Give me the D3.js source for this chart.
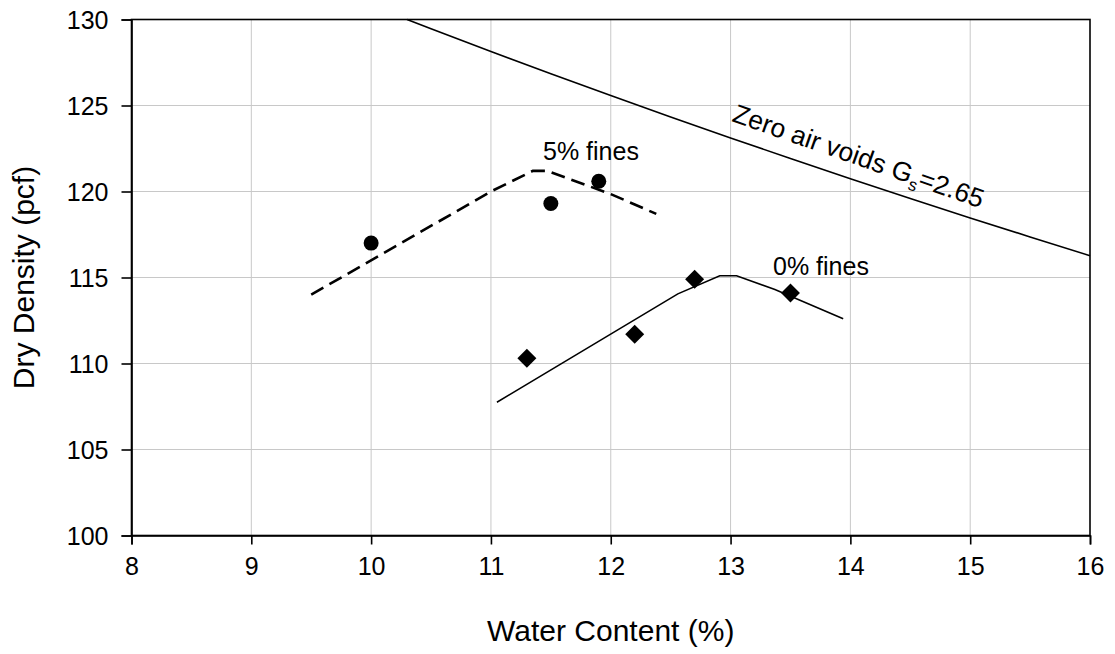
<!DOCTYPE html>
<html>
<head>
<meta charset="utf-8">
<script src="https://cdn.jsdelivr.net/npm/d3@7/dist/d3.min.js"></script>
<style>
  html, body { margin: 0; padding: 0; background: #fff; }
  svg text { font-family: "Liberation Sans", Arial, sans-serif; fill: #000; }
</style>
</head>
<body>
<svg id="chart" width="1115" height="654"></svg>
<script>
// Compaction test results: water content (%) vs dry density (pcf)
const fines5Water   = [10.0, 11.5, 11.9];
const fines5Density = [117.0, 119.3, 120.6];
const fines0Water   = [11.3, 12.2, 12.7, 13.5];
const fines0Density = [110.3, 111.7, 114.9, 114.1];

// Fitted compaction curves
const curve5Water   = [9.5, 11.0, 11.35, 11.47, 12.0, 12.38];
const curve5Density = [114.0, 120.0, 121.2, 121.2, 119.85, 118.7];
const curve0Water   = [11.05, 12.56, 12.91, 13.05, 13.37, 13.94];
const curve0Density = [107.75, 114.05, 115.1, 115.1, 114.3, 112.6];

// Zero air voids line, Gs = 2.65
const zavWater   = [10.3, 10.5, 11, 11.5, 12, 12.5, 13, 13.5, 14, 14.5, 15, 15.5, 16];
const zavDensity = [130.0, 129.46, 128.14, 126.85, 125.58, 124.33, 123.11, 121.92, 120.74, 119.59, 118.46, 117.36, 116.27];

const xTicks = [8, 9, 10, 11, 12, 13, 14, 15, 16];
const yTicks = [100, 105, 110, 115, 120, 125, 130];

const svg = d3.select("#chart");
const plotLeft = 131.5, plotRight = 1090, plotTop = 19.5, plotBottom = 535.5;

const x = d3.scaleLinear().domain([8, 16]).range([plotLeft, plotRight]);
const y = d3.scaleLinear().domain([100, 130]).range([plotBottom, plotTop]);

// Grid
const grid = svg.append("g").attr("stroke", "#c8c8c8").attr("stroke-width", 1);
xTicks.slice(1, -1).forEach(t => {
  grid.append("line").attr("x1", x(t)).attr("x2", x(t)).attr("y1", plotTop).attr("y2", plotBottom);
});
yTicks.slice(1, -1).forEach(t => {
  grid.append("line").attr("x1", plotLeft).attr("x2", plotRight).attr("y1", y(t)).attr("y2", y(t));
});

// Frame
svg.append("rect")
  .attr("x", plotLeft).attr("y", plotTop)
  .attr("width", plotRight - plotLeft).attr("height", plotBottom - plotTop)
  .attr("fill", "none").attr("stroke", "#000").attr("stroke-width", 1.6);

// Axes
const xAxis = d3.axisBottom(x).tickValues(xTicks).tickSize(9).tickPadding(13).tickFormat(d3.format("d"));
const yAxis = d3.axisLeft(y).tickValues(yTicks).tickSize(10).tickPadding(13).tickFormat(d3.format("d"));

const gx = svg.append("g").attr("transform", `translate(0,${plotBottom})`).call(xAxis);
const gy = svg.append("g").attr("transform", `translate(${plotLeft},0)`).call(yAxis);
[gx, gy].forEach(g => {
  g.select(".domain").attr("stroke", "#000").attr("stroke-width", 1.6);
  g.selectAll(".tick line").attr("stroke", "#000").attr("stroke-width", 1.6);
  g.selectAll(".tick text").attr("font-size", 25).attr("font-family", "Liberation Sans, Arial, sans-serif").attr("fill", "#000");
});
gy.selectAll(".tick text").attr("dy", "0.35em");

// Axis titles
svg.append("text")
  .attr("x", (plotLeft + plotRight) / 2).attr("y", 641)
  .attr("text-anchor", "middle").attr("font-size", 30)
  .text("Water Content (%)");
svg.append("text")
  .attr("transform", `translate(34,${(plotTop + plotBottom) / 2}) rotate(-90)`)
  .attr("text-anchor", "middle").attr("font-size", 30)
  .text("Dry Density (pcf)");

const line = d3.line().x(d => x(d[0])).y(d => y(d[1]));

// Zero air voids
svg.append("path")
  .datum(d3.zip(zavWater, zavDensity))
  .attr("d", line).attr("fill", "none")
  .attr("stroke", "#000").attr("stroke-width", 1.6);

// 5% fines curve (dashed)
svg.append("path")
  .datum(d3.zip(curve5Water, curve5Density))
  .attr("d", line).attr("fill", "none")
  .attr("stroke", "#000").attr("stroke-width", 2.6)
  .attr("stroke-dasharray", "14,7");

// 0% fines curve
svg.append("path")
  .datum(d3.zip(curve0Water, curve0Density))
  .attr("d", line).attr("fill", "none")
  .attr("stroke", "#000").attr("stroke-width", 1.6);

// 5% fines points
svg.append("g").selectAll("circle")
  .data(d3.zip(fines5Water, fines5Density))
  .join("circle")
  .attr("cx", d => x(d[0])).attr("cy", d => y(d[1]))
  .attr("r", 7.5).attr("fill", "#000");

// 0% fines points
const diamond = d3.symbol().type(d3.symbolSquare).size(180);
svg.append("g").selectAll("path")
  .data(d3.zip(fines0Water, fines0Density))
  .join("path")
  .attr("d", diamond)
  .attr("transform", d => `translate(${x(d[0])},${y(d[1])}) rotate(45)`)
  .attr("fill", "#000");

// Annotations
svg.append("text").attr("x", 543).attr("y", 160).attr("font-size", 25).text("5% fines");
svg.append("text").attr("x", 773).attr("y", 275).attr("font-size", 25).text("0% fines");

const zav = svg.append("text")
  .attr("transform", "translate(731,121) rotate(19.3)")
  .attr("font-size", 26.5);
zav.append("tspan").text("Zero air voids G");
zav.append("tspan").attr("font-size", 17).attr("dy", 6).text("s");
zav.append("tspan").attr("dy", -6).text("=2.65");
</script>
</body>
</html>
